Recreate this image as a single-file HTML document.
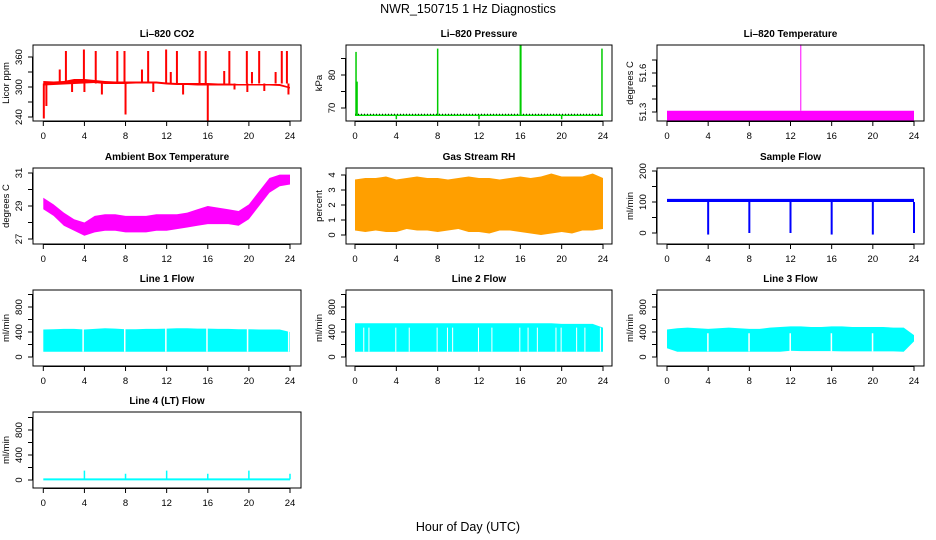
<!DOCTYPE html>
<html><head><meta charset="utf-8"><style>
html,body{margin:0;padding:0;background:#fff}
svg{display:block;font-family:"Liberation Sans",sans-serif}
</style></head><body>
<svg id="c" width="936" height="540" viewBox="0 0 936 540">
<text x="468" y="13" text-anchor="middle" font-size="12.5">NWR_150715  1 Hz Diagnostics</text>
<text x="468" y="531" text-anchor="middle" font-size="12.5">Hour of Day (UTC)</text>
</svg>
<script>
// ---------- data ----------
const hours = [0,1,2,3,4,5,6,7,8,9,10,11,12,13,14,15,16,17,18,19,20,21,22,23,24];
const xTicks = [0,4,8,12,16,20,24];
// CO2
const co2Low  = [303,304,305,306,307,308,306,306,306,307,307,307,305,304,304,303,303,303,303,303,303,303,303,302,297];
const co2High = [312,311,312,316,316,314,312,311,311,311,311,311,309,308,308,308,308,307,307,306,306,306,306,306,300];
const co2SpikeHours = [2.2,3.95,5.1,7.2,7.9,10.2,11.95,13.0,15.2,15.8,18.1,19.8,21.0,23.2,23.7,1.6,9.6,12.4,17.6,20.3,22.6,0.05,0.3,2.8,4.0,5.7,8.0,10.7,13.6,16.0,18.6,19.85,21.5,23.85];
const co2SpikeVals  = [372,375,372,372,372,372,375,372,372,372,372,372,372,372,372,335,335,330,332,330,330,237,262,290,290,285,245,290,285,232,295,290,292,285];
// Pressure
const presBase = 67.8;
const presSpikeHours = [0.1,0.2,8.0,16.0,16.05,23.9,4.0,12.0,20.0];
const presSpikeVals  = [87,78,88,89,89,88,66.6,66.6,66.6];
// Li-820 temperature
const tempLow = 51.235, tempHigh = 51.31;
const tempSpikeHours = [13.0];
const tempSpikeVals = [51.82];
// Ambient box temperature
const ambLow  = [28.8,28.4,27.8,27.5,27.2,27.4,27.5,27.5,27.4,27.4,27.4,27.5,27.5,27.6,27.7,27.8,27.9,27.9,27.9,27.8,28.2,29.0,29.8,30.2,30.3];
const ambHigh = [29.5,29.1,28.6,28.2,28.0,28.4,28.5,28.5,28.4,28.4,28.4,28.5,28.5,28.5,28.6,28.8,29.0,28.9,28.8,28.7,29.1,29.9,30.7,30.9,30.9];
// Gas stream RH
const rhLow  = [0.3,0.2,0.3,0.2,0.2,0.4,0.3,0.3,0.2,0.3,0.4,0.2,0.2,0.1,0.3,0.3,0.2,0.1,0.0,0.1,0.2,0.1,0.3,0.3,0.4];
const rhHigh = [3.7,3.8,3.8,3.9,3.7,3.8,3.9,3.8,3.8,3.7,3.8,3.9,3.8,3.8,3.7,3.8,3.9,3.8,3.9,4.1,3.9,3.9,3.9,4.1,3.8];
// Sample flow
const sampleLow = 100, sampleHigh = 110;
const sampleDropHours = [4,8,12,16,20,24];
const sampleDropVals  = [-5,0,0,-5,-5,0];
// Line flows
const line1Low = 85, line1High = [440,445,450,450,440,450,460,455,445,445,450,450,455,460,460,455,455,450,450,445,445,440,440,440,400];
const line1Gaps = [3.8,7.85,11.85,15.85,19.8,23.8];
const line2Low = 85, line2High = [540,540,540,540,540,540,540,540,540,540,540,540,540,540,540,540,540,540,540,540,530,530,530,530,470];
const line2Gaps = [0.8,1.3,3.9,5.2,7.9,8.9,9.4,11.9,13.2,15.9,16.7,17.6,19.4,19.9,21.4,22.2,23.7];
const line3Low = [140,85,85,85,85,85,85,85,85,85,85,85,100,95,95,95,95,90,90,90,90,90,90,85,250];
const line3High = [440,460,470,460,450,460,470,460,450,450,470,480,490,490,480,480,490,490,480,480,480,480,470,470,350];
const line3Gaps = [3.9,7.9,11.9,15.9,19.9];
const line4Base = 10;
const line4SpikeHours = [4,8,12,16,20,24];
const line4SpikeVals  = [150,100,150,100,150,100];

// ---------- layout ----------
const NS = 'http://www.w3.org/2000/svg';
const svg = document.getElementById('c');
function mk(tag, attrs, parent){ const e=document.createElementNS(NS,tag); for(const k in attrs) e.setAttribute(k,attrs[k]); (parent||svg).appendChild(e); return e; }
const cols = [{bx0:33,bx1:301,h0:43.3,h24:290},{bx0:346,bx1:612,h0:355,h24:603},{bx0:657,bx1:924,h0:667,h24:914}];
const rows = [{by0:45,by1:121},{by0:168,by1:244},{by0:290,by1:366},{by0:412,by1:488}];

function panel(name, title, ci, ri, v1, p1, v2, p2, yTicks, yLabels, yTitle, draw){
  const c=cols[ci], r=rows[ri];
  const g = mk('g',{});
  
  
  const X = h => c.h0 + (h/24)*(c.h24-c.h0);
  const Y = v => p1 + (v-v1)*(p2-p1)/(v2-v1);
  const plot = mk('g',{}, g);
  
  
  draw(plot, X, Y, c, r);
  const box = mk('rect',{x:c.bx0,y:r.by0,width:c.bx1-c.bx0,height:r.by1-r.by0,fill:'none',stroke:'#000','stroke-width':1}, g);
  
  
  const t = mk('text',{x:(c.bx0+c.bx1)/2,y:r.by0-8,'text-anchor':'middle','font-size':10,'font-weight':'bold'}, g);
  t.textContent = title;
  
  
  const xa = mk('g',{}, g);
  
  
  mk('line',{x1:X(0),x2:X(24),y1:r.by1+0.5,y2:r.by1+0.5,stroke:'#000'}, xa);
  xTicks.forEach(h=>{
    mk('line',{x1:X(h),x2:X(h),y1:r.by1,y2:r.by1+5,stroke:'#000'}, xa);
    const tl = mk('text',{x:X(h),y:r.by1+18,'text-anchor':'middle','font-size':9.5}, xa);
    tl.textContent = h;
    
    
  });
  const ya = mk('g',{}, g);
  
  
  mk('line',{x1:c.bx0-0.5,x2:c.bx0-0.5,y1:Y(yTicks[0]),y2:Y(yTicks[yTicks.length-1]),stroke:'#000'}, ya);
  yTicks.forEach(v=>{
    mk('line',{x1:c.bx0-5,x2:c.bx0,y1:Y(v),y2:Y(v),stroke:'#000'}, ya);
  });
  yLabels.forEach(v=>{
    const lx = c.bx0-11, ly = Y(v);
    const tl = mk('text',{x:lx,y:ly,'text-anchor':'middle','font-size':9.5,transform:`rotate(-90 ${lx} ${ly})`}, ya);
    tl.textContent = v;
    
    
  });
  const tx = c.bx0-24, ty=(r.by0+r.by1)/2;
  const yt = mk('text',{x:tx,y:ty,'text-anchor':'middle','font-size':9.5,transform:`rotate(-90 ${tx} ${ty})`}, ya);
  yt.textContent = yTitle;
  
  
}
function band(p, X, Y, lows, highs, fill){
  let pts=[];
  hours.forEach((h,i)=>pts.push(X(h)+','+Y(Array.isArray(highs)?highs[i]:highs)));
  for(let i=hours.length-1;i>=0;i--) pts.push(X(hours[i])+','+Y(Array.isArray(lows)?lows[i]:lows));
  const e = mk('polygon',{points:pts.join(' '),fill:fill}, p);
  
  
  return e;
}
function spikes(p, X, Y, hs, vs, base, color, w){
  hs.forEach((h,i)=>{
    const e = mk('line',{x1:X(h),x2:X(h),y1:Y(base),y2:Y(vs[i]),stroke:color,'stroke-width':w}, p);
    
    
  });
}
function gaps(p, X, Y, gs, lo, hi, w){
  gs.forEach(h=>{
    const e = mk('rect',{x:X(h),y:Y(hi),width:w,height:Y(lo)-Y(hi),fill:'#fff'}, p);
    
    
  });
}

panel('co2','Li\u2013820 CO2',0,0,240,117,360,57,[240,270,300,330,360],[240,300,360],'Licor ppm',(p,X,Y)=>{
  band(p,X,Y,co2Low,co2High,'#ff0000');
  spikes(p,X,Y,co2SpikeHours,co2SpikeVals,307,'#ff0000',2);
});
panel('pressure','Li\u2013820 Pressure',1,0,70,108,80,75,[70,75,80,85],[70,80],'kPa',(p,X,Y)=>{
  const l = mk('line',{x1:X(0),x2:X(24),y1:Y(presBase),y2:Y(presBase),stroke:'#00dd00','stroke-width':1.5}, p);
  
  
  const d = mk('line',{x1:X(0),x2:X(24),y1:Y(presBase)-1,y2:Y(presBase)-1,stroke:'#000','stroke-width':1,'stroke-dasharray':'1 2'}, p);
  
  
  spikes(p,X,Y,presSpikeHours,presSpikeVals,presBase,'#00cc00',1.5);
});
panel('li820-temp','Li\u2013820 Temperature',2,0,51.3,112,51.6,73,[51.3,51.4,51.5,51.6,51.7],[51.3,51.6],'degrees C',(p,X,Y)=>{
  band(p,X,Y,tempLow,tempHigh,'#ff00ff');
  spikes(p,X,Y,tempSpikeHours,tempSpikeVals,tempHigh,'#ff00ff',1);
});
panel('ambient-temp','Ambient Box Temperature',0,1,27,239,31,173,[27,28,29,30,31],[27,29,31],'degrees C',(p,X,Y)=>{
  band(p,X,Y,ambLow,ambHigh,'#ff00ff');
});
panel('rh','Gas Stream RH',1,1,0,235,4,175,[0,1,2,3,4],[0,1,2,3,4],'percent',(p,X,Y)=>{
  band(p,X,Y,rhLow,rhHigh,'#ff9f00');
});
panel('sample-flow','Sample Flow',2,1,0,233,200,171,[0,50,100,150,200],[0,100,200],'ml/min',(p,X,Y)=>{
  band(p,X,Y,sampleLow,sampleHigh,'#0000ff');
  spikes(p,X,Y,sampleDropHours,sampleDropVals,sampleLow,'#0000ff',2);
});
const flowTicks=[0,200,400,600,800,1000], flowLabels=[0,400,800];
panel('line1-flow','Line 1 Flow',0,2,0,357,800,307,flowTicks,flowLabels,'ml/min',(p,X,Y)=>{
  band(p,X,Y,line1Low,line1High,'#00ffff');
  gaps(p,X,Y,line1Gaps,line1Low,460,1.5);
});
panel('line2-flow','Line 2 Flow',1,2,0,357,800,307,flowTicks,flowLabels,'ml/min',(p,X,Y)=>{
  band(p,X,Y,line2Low,line2High,'#00ffff');
  gaps(p,X,Y,line2Gaps,line2Low,470,1);
});
panel('line3-flow','Line 3 Flow',2,2,0,357,800,307,flowTicks,flowLabels,'ml/min',(p,X,Y)=>{
  band(p,X,Y,line3Low,line3High,'#00ffff');
  gaps(p,X,Y,line3Gaps,90,380,1.5);
});
panel('line4-flow','Line 4 (LT) Flow',0,3,0,480,800,430,flowTicks,flowLabels,'ml/min',(p,X,Y)=>{
  const l = mk('line',{x1:X(0),x2:X(24),y1:Y(line4Base),y2:Y(line4Base),stroke:'#00ffff','stroke-width':2}, p);
  
  
  spikes(p,X,Y,line4SpikeHours,line4SpikeVals,line4Base,'#00ffff',1.5);
});
</script>
</body></html>
